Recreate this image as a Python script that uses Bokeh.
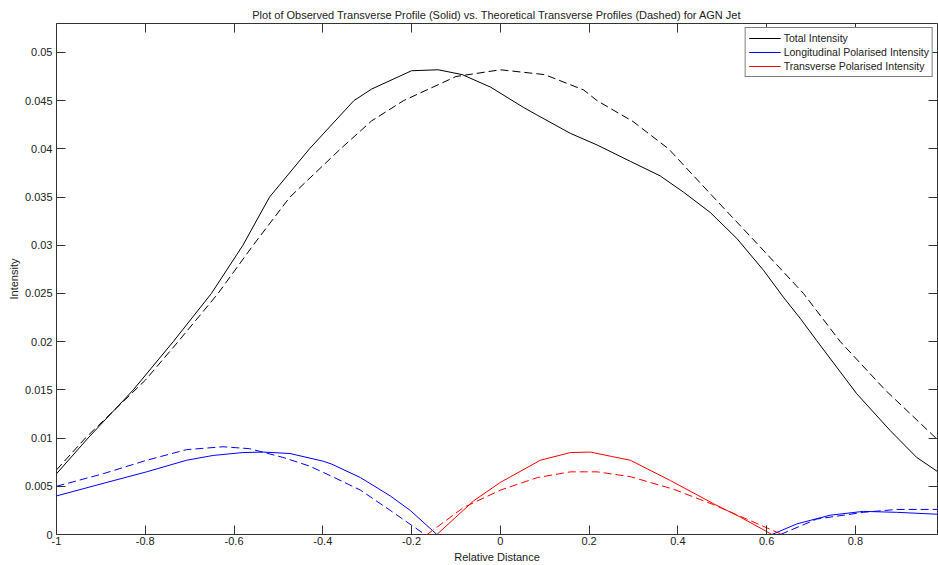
from bokeh.plotting import figure
from bokeh.models import LinearAxis, FixedTicker, Legend, LegendItem, Range1d
from bokeh.embed import file_html
from bokeh.resources import INLINE

# ---- data ----
tot_obs_x = [-1.0, -0.929, -0.827, -0.737, -0.651, -0.58, -0.52, -0.43, -0.33, -0.29, -0.2, -0.14,
             -0.086, -0.022, 0.052, 0.083, 0.158, 0.218, 0.293, 0.36, 0.413, 0.473, 0.533, 0.593,
             0.638, 0.676, 0.713, 0.803, 0.878, 0.938, 0.986]
tot_obs_y = [0.0063, 0.0100, 0.0150, 0.0200, 0.0250, 0.0300, 0.0350, 0.0400, 0.0450, 0.0462, 0.0481,
             0.0482, 0.0477, 0.0464, 0.0443, 0.0435, 0.0416, 0.0404, 0.0387, 0.0372, 0.0355, 0.0334,
             0.0307, 0.0274, 0.0246, 0.0224, 0.0201, 0.0146, 0.0108, 0.0080, 0.0065]

tot_th_x = [-1.0, -0.935, -0.8, -0.726, -0.636, -0.557, -0.474, -0.36, -0.29, -0.218, -0.1, 0.0,
            0.1, 0.188, 0.218, 0.3, 0.379, 0.48, 0.582, 0.683, 0.766, 0.867, 0.986]
tot_th_y = [0.0067, 0.0100, 0.0160, 0.0200, 0.0250, 0.0300, 0.0350, 0.0400, 0.0429, 0.0450, 0.0475,
            0.0482, 0.0477, 0.0461, 0.0450, 0.0428, 0.0400, 0.0350, 0.0300, 0.0250, 0.0200, 0.0150,
            0.0098]

lon_obs_x1 = [-1.0, -0.895, -0.797, -0.707, -0.647, -0.58, -0.534, -0.474, -0.399, -0.38, -0.315,
              -0.248, -0.203, -0.143]
lon_obs_y1 = [0.0040, 0.0053, 0.0065, 0.0077, 0.0082, 0.0085, 0.00855, 0.0084, 0.0076, 0.0073, 0.0059,
              0.0040, 0.0025, 0.0]
lon_obs_x2 = [0.612, 0.668, 0.743, 0.818, 0.893, 0.986]
lon_obs_y2 = [0.0, 0.0011, 0.0020, 0.0024, 0.0023, 0.0021]

lon_th_x1 = [-1.0, -0.895, -0.797, -0.707, -0.625, -0.565, -0.49, -0.43, -0.383, -0.315, -0.248, -0.17]
lon_th_y1 = [0.0050, 0.0063, 0.0077, 0.0088, 0.0091, 0.0089, 0.0080, 0.0071, 0.0061, 0.0046, 0.0025, 0.0]
lon_th_x2 = [0.631, 0.713, 0.818, 0.893, 0.986]
lon_th_y2 = [0.0, 0.0016, 0.0023, 0.0026, 0.0026]

tra_obs_x = [-0.143, -0.06, 0.0, 0.09, 0.158, 0.203, 0.25, 0.293, 0.383, 0.48, 0.541, 0.612]
tra_obs_y = [0.0, 0.0035, 0.0054, 0.0077, 0.0085, 0.00855, 0.0081, 0.0077, 0.0056, 0.0032, 0.0018, 0.0]

tra_th_x = [-0.165, -0.083, 0.0, 0.083, 0.158, 0.218, 0.293, 0.39, 0.48, 0.555, 0.635]
tra_th_y = [0.0, 0.0028, 0.0046, 0.0059, 0.0065, 0.0065, 0.0060, 0.0047, 0.0031, 0.0016, 0.0]

x_ticks = [-1, -0.8, -0.6, -0.4, -0.2, 0, 0.2, 0.4, 0.6, 0.8]
x_tick_labels = ["-1", "-0.8", "-0.6", "-0.4", "-0.2", "0", "0.2", "0.4", "0.6", "0.8"]
y_ticks = [0, 0.005, 0.01, 0.015, 0.02, 0.025, 0.03, 0.035, 0.04, 0.045, 0.05]
y_tick_labels = ["0", "0.005", "0.01", "0.015", "0.02", "0.025", "0.03", "0.035", "0.04", "0.045", "0.05"]

legend_labels = ["Total Intensity", "Longitudinal Polarised Intensity", "Transverse Polarised Intensity"]

FONT = "Liberation Sans"
AX = "#333333"
TXT = "#222222"
BLACK = "#000000"
BLUE = "#0000ff"
RED = "#ff0000"
DASH = "8 4"

p = figure(width=938, height=565, output_backend="svg", toolbar_location=None,
           x_range=Range1d(-1, 0.985), y_range=Range1d(0, 0.053),
           min_border_left=56, min_border_right=1, min_border_top=23, min_border_bottom=31,
           x_axis_location=None, y_axis_location=None)
p.grid.visible = False
p.outline_line_color = None
p.background_fill_color = "white"
p.border_fill_color = "white"

p.title.text = "Plot of Observed Transverse Profile (Solid) vs. Theoretical Transverse Profiles (Dashed) for AGN Jet"
p.title.align = "center"
p.title.vertical_align = "middle"
p.title.text_font = FONT
p.title.text_font_size = "11px"
p.title.text_font_style = "normal"
p.title.text_color = TXT
p.title.standoff = 4
p.title.offset = 0


def style_axis(ax, ticks, labels, show_labels):
    ax.ticker = FixedTicker(ticks=ticks)
    ax.major_tick_in = 9
    ax.major_tick_out = 0
    ax.minor_tick_in = 0
    ax.minor_tick_out = 0
    ax.axis_line_color = AX
    ax.major_tick_line_color = AX
    ax.axis_line_width = 1
    ax.major_label_text_font = FONT
    ax.major_label_text_font_size = "11px"
    ax.major_label_text_color = TXT
    ax.axis_label_text_font = FONT
    ax.axis_label_text_font_size = "11px"
    ax.axis_label_text_font_style = "normal"
    ax.axis_label_text_color = TXT
    if show_labels:
        ax.major_label_overrides = {t: l for t, l in zip(ticks, labels)}
        ax.major_label_standoff = 4
    else:
        ax.major_label_overrides = {t: "" for t in ticks}
        ax.major_label_standoff = 0
        ax.major_label_text_font_size = "0px"


xb = LinearAxis(axis_label="Relative Distance")
style_axis(xb, x_ticks, x_tick_labels, True)
xb.major_label_standoff = 2
xb.axis_label_standoff = 3
p.add_layout(xb, "below")

yl = LinearAxis(axis_label="Intensity")
style_axis(yl, y_ticks, y_tick_labels, True)
yl.axis_label_standoff = 2
p.add_layout(yl, "left")

xt = LinearAxis()
style_axis(xt, x_ticks, x_tick_labels, False)
p.add_layout(xt, "above")

yr = LinearAxis()
style_axis(yr, y_ticks, y_tick_labels, False)
p.add_layout(yr, "right")

# ---- lines (solid, observed) ----
r_tot = p.line(tot_obs_x, tot_obs_y, line_color=BLACK, line_width=1)
r_lon = p.line(lon_obs_x1, lon_obs_y1, line_color=BLUE, line_width=1)
p.line(lon_obs_x2, lon_obs_y2, line_color=BLUE, line_width=1)
r_tra = p.line(tra_obs_x, tra_obs_y, line_color=RED, line_width=1)

# ---- lines (dashed, theoretical) ----
p.line(tot_th_x, tot_th_y, line_color=BLACK, line_width=1, line_dash=DASH)
p.line(lon_th_x1, lon_th_y1, line_color=BLUE, line_width=1, line_dash=DASH)
p.line(lon_th_x2, lon_th_y2, line_color=BLUE, line_width=1, line_dash=DASH)
p.line(tra_th_x, tra_th_y, line_color=RED, line_width=1, line_dash=DASH)

legend = Legend(items=[LegendItem(label=legend_labels[0], renderers=[r_tot]),
                       LegendItem(label=legend_labels[1], renderers=[r_lon]),
                       LegendItem(label=legend_labels[2], renderers=[r_tra])],
                location="top_right")
legend.border_line_color = "black"
legend.border_line_width = 1
legend.background_fill_color = "white"
legend.background_fill_alpha = 1
legend.label_text_font = FONT
legend.label_text_font_size = "10.5px"
legend.label_text_color = TXT
legend.glyph_width = 32
legend.glyph_height = 14
legend.label_height = 14
legend.spacing = 0
legend.padding = 3
legend.margin = 4
legend.label_standoff = 3
p.add_layout(legend)

open("out.html", "w").write(file_html(p, INLINE))
